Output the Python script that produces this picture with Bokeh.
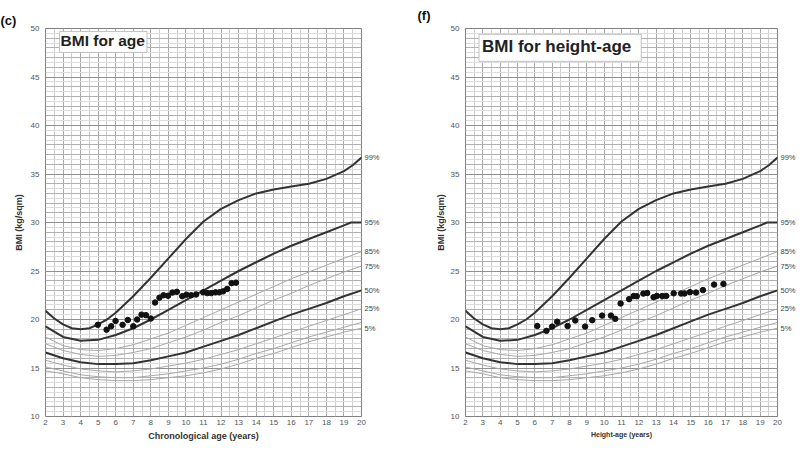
from bokeh.plotting import figure
from bokeh.layouts import row
from bokeh.models import Range1d, FixedTicker, Label, Grid, LinearAxis
from bokeh.embed import file_html
from bokeh.resources import INLINE

# ---------------- data ----------------
ages = list(range(2, 21))
p5 = [14.7, 14.4, 14.0, 13.8, 13.7, 13.7, 13.8, 14.0, 14.2, 14.5, 14.9, 15.4, 16.0, 16.5, 17.1, 17.7, 18.2, 18.7, 19.1]
p10 = [15.1, 14.7, 14.3, 14.1, 14.0, 14.0, 14.2, 14.4, 14.7, 15.0, 15.4, 15.9, 16.5, 17.0, 17.6, 18.2, 18.7, 19.2, 19.7]
p25 = [15.8, 15.3, 14.9, 14.7, 14.6, 14.7, 14.9, 15.2, 15.5, 15.9, 16.4, 16.9, 17.5, 18.1, 18.7, 19.3, 19.9, 20.5, 21.1]
p50 = [16.6, 16.0, 15.6, 15.4, 15.4, 15.5, 15.8, 16.2, 16.6, 17.2, 17.8, 18.4, 19.1, 19.8, 20.5, 21.1, 21.7, 22.4, 23.0]
p75 = [17.5, 16.8, 16.4, 16.2, 16.3, 16.6, 17.0, 17.6, 18.2, 18.9, 19.7, 20.4, 21.2, 22.0, 22.7, 23.5, 24.2, 24.9, 25.5]
p85 = [18.2, 17.3, 16.9, 16.8, 17.0, 17.4, 18.0, 18.6, 19.4, 20.2, 21.0, 21.8, 22.6, 23.4, 24.2, 24.9, 25.6, 26.3, 27.0]
p95_ages = list(range(2, 20)) + [19.4, 20]
p95 = [19.3, 18.2, 17.8, 17.9, 18.4, 19.1, 20.0, 21.0, 22.0, 23.0, 24.0, 25.0, 25.9, 26.8, 27.6, 28.3, 29.0, 29.7, 30.0, 30.0]
p99_ages = [2, 2.5, 3, 3.5, 4, 4.5, 5, 5.5, 6, 7, 8, 9, 10, 11, 12, 13, 14, 15, 16, 17, 18, 19, 19.5, 20]
p99 = [20.9, 20.1, 19.5, 19.1, 19.0, 19.1, 19.5, 20.0, 20.7, 22.4, 24.3, 26.3, 28.3, 30.1, 31.4, 32.3, 33.0, 33.4, 33.7, 34.0, 34.5, 35.3, 35.9, 36.7]

pct_labels = ["99%", "95%", "85%", "75%", "50%", "25%", "5%"]

# patient points: chronological age
chron_age = [4.98, 5.48, 5.74, 5.99, 6.39, 6.69, 7.0, 7.22, 7.47, 7.72, 8.0, 8.24, 8.49, 8.72, 8.98,
             9.23, 9.48, 9.79, 10.03, 10.3, 10.58, 10.98, 11.21, 11.44, 11.68, 11.9, 12.12, 12.35, 12.6, 12.85]
chron_bmi = [19.45, 18.95, 19.3, 19.85, 19.45, 19.95, 19.3, 20.0, 20.5, 20.45, 20.1, 21.75, 22.25, 22.5, 22.45,
             22.78, 22.85, 22.4, 22.55, 22.5, 22.58, 22.8, 22.72, 22.72, 22.8, 22.8, 22.9, 23.15, 23.75, 23.8]
# patient points: height-age
height_age = [6.14, 6.67, 7.0, 7.29, 7.89, 8.33, 8.9, 9.31, 9.88, 10.39, 10.64,
              10.95, 11.44, 11.7, 11.88, 12.26, 12.48, 12.85, 13.04, 13.35, 13.58, 14.01, 14.44, 14.63,
              14.95, 15.3, 15.7, 16.34, 16.88]
height_bmi = [19.33, 18.83, 19.27, 19.77, 19.33, 19.9, 19.27, 19.93, 20.4, 20.4, 20.07,
              21.65, 22.1, 22.42, 22.4, 22.67, 22.73, 22.3, 22.43, 22.42, 22.43, 22.7, 22.68, 22.68,
              22.82, 22.78, 23.03, 23.6, 23.67]

x_ticks = list(range(2, 21))
x_minor = [a + 0.5 for a in range(2, 20)]
y_ticks = list(range(10, 51, 5))
y_grid = list(range(10, 51))
y_minor = [b + 0.5 for b in range(10, 50)]

FONT = "Liberation Sans"
THICK = "#333333"
THIN = "#a8a8a8"


def make_panel(xs, ys, fw, bl, br, bt, bb, xlabel, xlabel_size, ylabel_standoff,
               title, title_size, title_x, title_y, title_pad, panel_tag, tag_off, tag_standoff):
    p = figure(frame_width=fw, frame_height=388, output_backend="svg", toolbar_location=None,
               x_range=Range1d(2, 20), y_range=Range1d(10, 50),
               min_border_left=bl, min_border_right=br, min_border_top=bt, min_border_bottom=bb,
               title=panel_tag)
    p.title.text_font = FONT
    p.title.text_font_size = "13px"
    p.title.text_font_style = "bold"
    p.title.text_color = "#111111"
    p.title.align = "left"
    p.title.offset = tag_off
    p.title.standoff = tag_standoff
    p.background_fill_color = "white"
    p.border_fill_color = "white"
    p.outline_line_color = "#808080"
    p.outline_line_width = 1

    # grid
    p.xgrid.ticker = FixedTicker(ticks=x_ticks, minor_ticks=x_minor)
    p.xgrid.grid_line_color = "#a8a8a8"
    p.xgrid.minor_grid_line_color = "#cfcfcf"
    p.ygrid.ticker = FixedTicker(ticks=y_grid, minor_ticks=y_minor)
    p.ygrid.grid_line_color = "#b0b0b0"
    p.ygrid.minor_grid_line_color = "#dcdcdc"
    g5 = Grid(dimension=1, ticker=FixedTicker(ticks=y_ticks), grid_line_color="#909090")
    p.add_layout(g5)

    # axes
    p.xaxis.ticker = FixedTicker(ticks=x_ticks)
    p.yaxis.ticker = FixedTicker(ticks=y_ticks)
    for ax in (p.xaxis, p.yaxis):
        ax.axis_line_color = None
        ax.major_tick_line_color = None
        ax.minor_tick_line_color = None
        ax.major_tick_out = 0
        ax.major_tick_in = 0
        ax.minor_tick_out = 0
        ax.minor_tick_in = 0
        ax.major_label_text_font = FONT
        ax.major_label_text_font_size = "8px"
        ax.major_label_text_color = "#555555"
        ax.axis_label_text_font = FONT
        ax.axis_label_text_font_style = "bold"
        ax.axis_label_text_color = "#333333"
    p.xaxis.major_label_standoff = 3
    p.yaxis.major_label_standoff = 6
    p.xaxis.axis_label = xlabel
    p.xaxis.axis_label_text_font_size = xlabel_size
    p.xaxis.axis_label_standoff = 3
    p.yaxis.axis_label = "BMI (kg/sqm)"
    p.yaxis.axis_label_text_font_size = "9px"
    p.yaxis.axis_label_standoff = ylabel_standoff

    # percentile curves
    p.line(p99_ages, p99, line_color=THICK, line_width=2)
    p.line(p95_ages, p95, line_color=THICK, line_width=2)
    p.line(ages, p85, line_color=THIN, line_width=1)
    p.line(ages, p75, line_color=THIN, line_width=1)
    p.line(ages, p50, line_color=THICK, line_width=2)
    p.line(ages, p25, line_color=THIN, line_width=1)
    p.line(ages, p10, line_color=THIN, line_width=1)
    p.line(ages, p5, line_color=THIN, line_width=1)

    # percentile labels as a right-hand axis at the curve ends
    ends = [p99[-1], p95[-1], p85[-1], p75[-1], p50[-1], p25[-1], p5[-1]]
    rax = LinearAxis(ticker=FixedTicker(ticks=ends),
                     major_label_overrides={e: lab for e, lab in zip(ends, pct_labels)})
    rax.axis_line_color = None
    rax.major_tick_line_color = None
    rax.minor_tick_line_color = None
    rax.major_tick_out = 0
    rax.major_tick_in = 0
    rax.minor_tick_out = 0
    rax.minor_tick_in = 0
    rax.major_label_standoff = 3
    rax.major_label_text_font = FONT
    rax.major_label_text_font_size = "7.5px"
    rax.major_label_text_color = "#444444"
    p.add_layout(rax, "right")

    # patient data
    p.scatter(xs, ys, size=5.5, fill_color="#111111", line_color="#111111")

    # title box
    p.add_layout(Label(x=title_x, y=title_y, text=title, text_font=FONT, text_font_size=title_size,
                       text_font_style="bold", text_color="#222222", text_baseline="top",
                       background_fill_color="white", border_line_color="#c0c0c0",
                       padding=title_pad))
    return p


p1 = make_panel(chron_age, chron_bmi, 316, 45, 37, 24, 30, "Chronological age (years)", "9px", 4,
                "BMI for age", "15.5px", 2.8, 49.7, (1, 2, 1, 3), "(c)", -45, 2)
p2 = make_panel(height_age, height_bmi, 312, 67, 15, 26, 28, "Height-age (years)", "7px", 2,
                "BMI for height-age", "17px", 2.78, 49.4, (3, 10, 3, 5), "(f)", -48, 11)

layout = row(p1, p2)
open("out.html", "w").write(file_html(layout, INLINE))
